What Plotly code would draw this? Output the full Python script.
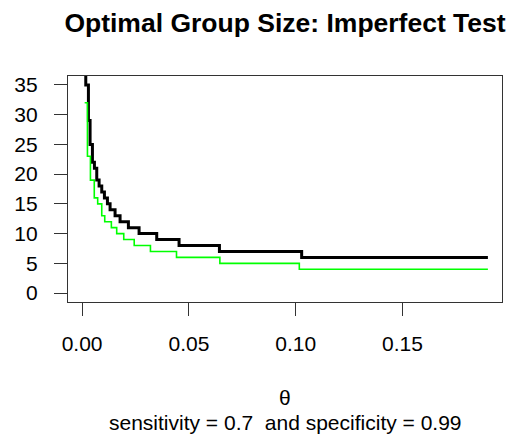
import plotly.graph_objects as go

# ---- data (step functions, value holds from x to next x) ----
theta_black = [0.0012, 0.00172, 0.00296, 0.00374, 0.00484, 0.00577, 0.00686, 0.00796,
               0.0092, 0.01045, 0.01186, 0.0131, 0.01544, 0.01778, 0.02168, 0.02668,
               0.03494, 0.0454, 0.0643, 0.1028, 0.19]
size_black = [38, 35, 29, 25, 22, 21, 19, 18, 17, 16, 15, 14, 13, 12, 11, 10, 9, 8, 7, 6, 6]

theta_green = [0.0012, 0.0025, 0.0039, 0.0057, 0.0073, 0.0092, 0.0106, 0.0137, 0.0162,
               0.0195, 0.0244, 0.032, 0.0442, 0.0645, 0.1017, 0.19]
size_green = [32, 23, 19, 16, 15, 13, 12, 11, 10, 9, 8, 7, 6, 5, 4, 4]

x_ticks = [0.00, 0.05, 0.10, 0.15]
x_tick_text = ["0.00", "0.05", "0.10", "0.15"]
y_ticks = [0, 5, 10, 15, 20, 25, 30, 35]

FONT = "Liberation Sans, Arial, sans-serif"

fig = go.Figure()
fig.add_trace(go.Scatter(x=theta_black, y=size_black, mode="lines",
                         line=dict(color="black", width=3, shape="hv"),
                         showlegend=False, hoverinfo="skip"))
fig.add_trace(go.Scatter(x=theta_green, y=size_green, mode="lines",
                         line=dict(color="#00ff00", width=1.6, shape="hv"),
                         showlegend=False, hoverinfo="skip"))

fig.update_layout(
    width=515, height=438,
    margin=dict(l=68, r=13, t=76, b=136),
    paper_bgcolor="white", plot_bgcolor="white",
    font=dict(family=FONT, size=21, color="black"),
    title=dict(text="<b>Optimal Group Size: Imperfect Test</b>",
               x=0.5, xanchor="center", xref="paper",
               y=1 - 23 / 438, yanchor="middle", yref="container",
               font=dict(family=FONT, size=26.5, color="black")),
    xaxis=dict(range=[-0.0066, 0.1966], tickvals=x_ticks, ticktext=x_tick_text,
               ticks="outside", ticklen=13, tickwidth=1.3, tickcolor="#333",
               showline=True, linecolor="#333", linewidth=1.3, mirror=True,
               showgrid=False, zeroline=False, ticklabelstandoff=10,
               tickfont=dict(family=FONT, size=21, color="black")),
    yaxis=dict(range=[-1.5, 36.5], tickvals=y_ticks,
               ticks="outside", ticklen=13, tickwidth=1.3, tickcolor="#333",
               showline=True, linecolor="#333", linewidth=1.3, mirror=True,
               showgrid=False, zeroline=False, ticklabelstandoff=12,
               tickfont=dict(family=FONT, size=21, color="black")),
    annotations=[
        dict(text="θ", xref="paper", yref="paper", x=0.5, y=0, yshift=-95,
             xanchor="center", yanchor="middle", showarrow=False,
             font=dict(family=FONT, size=21, color="black")),
        dict(text="sensitivity = 0.7  and specificity = 0.99", xref="paper", yref="paper",
             x=0.5, y=0, yshift=-120, xanchor="center", yanchor="middle", showarrow=False,
             font=dict(family=FONT, size=21, color="black")),
    ],
)

fig.write_html("out.html")
